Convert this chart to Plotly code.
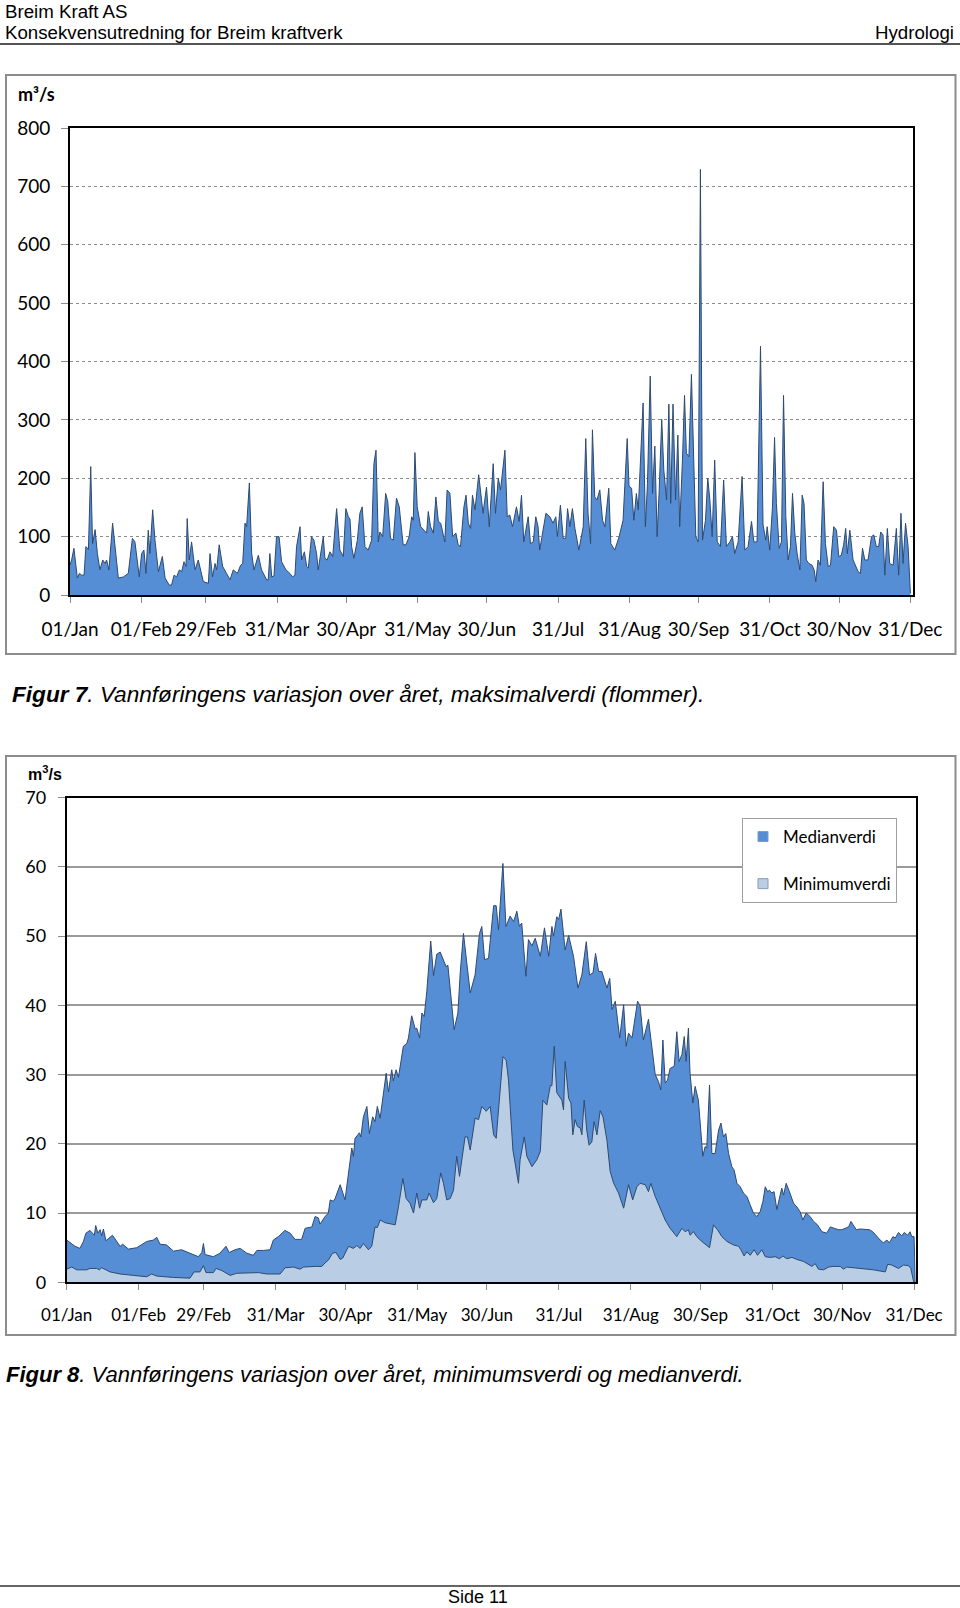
import plotly.graph_objects as go

# ---------------- data ----------------
tick_days = [0, 31, 59, 90, 120, 151, 181, 212, 243, 273, 304, 334, 365]
tick_labels = ["01/Jan", "01/Feb", "29/Feb", "31/Mar", "30/Apr", "31/May", "30/Jun",
               "31/Jul", "31/Aug", "30/Sep", "31/Oct", "30/Nov", "31/Dec"]

# Figur 7: maximum daily flow (m3/s), (day of year, value)
max_flow = [
    (0, 51), (0.7, 60), (1.7, 80), (3.2, 29), (4.1, 37), (5.1, 34), (6.1, 34), (6.9, 83), (8, 78),
    (9, 220), (9.8, 88), (10.9, 112), (11.9, 71), (13, 43), (14.2, 60), (15.2, 54), (15.9, 60),
    (16.9, 43), (18.5, 123), (19.5, 83), (21, 29), (23.2, 31), (25.3, 37), (27.1, 97), (28.2, 91),
    (30.1, 31), (31.1, 71), (32.1, 77), (33, 37), (34, 111), (34.7, 71), (35.9, 146), (36.9, 94),
    (38.4, 40), (40.1, 66), (41.3, 29), (43.1, 17), (44.1, 17), (45.2, 34), (46.3, 31), (47.5, 43),
    (48.5, 40), (49.5, 57), (50.4, 49), (50.9, 131), (51.8, 60), (52.8, 91), (54.3, 43), (55.7, 60),
    (57.9, 23), (60.1, 20), (60.8, 71), (61.9, 31), (63, 54), (63.7, 43), (64.8, 86), (66.3, 49),
    (68, 37), (69.5, 26), (70.9, 43), (72.7, 37), (74.1, 51), (75, 54), (76, 123), (76.7, 117),
    (77.9, 192), (78.9, 71), (79.9, 43), (81.8, 68), (83.2, 43), (85.4, 26), (86.1, 26), (86.8, 71),
    (87.6, 31), (88.6, 33), (89.7, 100), (90.8, 100), (91.9, 57), (93.8, 43), (95.5, 37), (96.7, 31),
    (97.7, 34), (98.4, 83), (99.9, 117), (100.6, 60), (101.8, 74), (102.8, 49), (103.5, 46),
    (104.9, 100), (105.9, 94), (107.1, 71), (107.8, 43), (108.8, 66), (110, 100), (110.7, 63),
    (111.7, 60), (112.9, 74), (114.1, 66), (115.8, 148), (117.2, 77), (118.7, 66), (119.8, 148),
    (120.9, 134), (121.6, 130), (122.3, 83), (123.3, 63), (124.8, 94), (125.9, 140), (126.9, 151),
    (128.1, 83), (129.5, 77), (131, 94), (132, 225), (132.9, 248), (133.9, 91), (134.6, 108),
    (135.8, 100), (137.1, 174), (138, 160), (139.2, 97), (140.4, 94), (141.8, 166), (143, 151),
    (144.7, 86), (145.9, 86), (147.3, 100), (148.4, 134), (149.1, 128), (149.8, 244), (150.8, 151),
    (152.3, 117), (153.7, 111), (154.9, 106), (155.6, 143), (156.6, 117), (157.8, 106), (158.9, 168),
    (160, 126), (161, 123), (162.8, 91), (163.8, 180), (165, 174), (166.2, 100), (167.6, 106),
    (168.6, 86), (169.6, 83), (171.1, 151), (172, 171), (173, 123), (174, 114), (174.8, 171),
    (175.9, 146), (177.5, 206), (179.4, 140), (180.9, 185), (182.1, 117), (183.8, 225), (184.8, 140),
    (186, 200), (187, 180), (188.9, 248), (189.9, 134), (191, 137), (192.2, 117), (193.9, 151),
    (195.1, 126), (196.1, 171), (197.1, 91), (199, 134), (200, 88), (201.2, 91), (202.3, 134),
    (203.3, 117), (204, 77), (205.2, 106), (206.7, 140), (208.4, 134), (209.8, 123), (211, 134),
    (211.7, 100), (213, 154), (214.2, 97), (215.3, 97), (216.1, 148), (217.1, 117), (218.2, 148),
    (219.3, 114), (221, 77), (222.9, 117), (224, 268), (225, 140), (226.1, 88), (226.9, 283),
    (227.9, 168), (228.9, 163), (230.1, 180), (231.3, 128), (232.3, 117), (234, 183), (234.9, 88),
    (236.6, 77), (238.5, 100), (240.2, 128), (242, 268), (242.8, 186), (243.9, 183), (244.9, 128),
    (246, 174), (246.8, 146), (248.9, 329), (249.9, 117), (250.8, 191), (252, 375), (253, 174),
    (254, 255), (255, 100), (255.9, 180), (257, 301), (257.9, 214), (259.1, 163), (260.1, 327),
    (260.9, 157), (261.9, 327), (263, 163), (264, 274), (264.8, 117), (266, 231), (266.9, 342),
    (267.7, 243), (268.8, 237), (269.9, 378), (270.6, 277), (271.8, 100), (272.8, 91), (273.8, 729),
    (274.7, 94), (276, 128), (277, 200), (277.9, 163), (278.9, 100), (280, 231), (281.1, 91),
    (282.5, 83), (283.9, 197), (285.1, 83), (286.6, 91), (287.7, 100), (288.7, 71), (290.2, 91),
    (291.9, 203), (293.1, 77), (294.5, 83), (296, 126), (297, 91), (298.4, 91), (299.9, 426),
    (301, 120), (302.2, 94), (302.8, 117), (303.9, 77), (305.1, 151), (306, 270), (306.8, 157),
    (308, 80), (309, 91), (309.9, 342), (310.9, 134), (311.9, 60), (312.9, 83), (313.8, 174),
    (314.8, 106), (315.8, 71), (317, 43), (318, 171), (318.8, 157), (319.8, 60), (320.9, 54),
    (322.3, 51), (323.2, 43), (323.9, 23), (324.9, 60), (325.9, 51), (327.1, 194), (328.1, 88),
    (329.3, 49), (330.3, 51), (331.7, 117), (332.9, 111), (333.9, 66), (335, 68), (336, 86),
    (336.9, 114), (337.6, 71), (338.7, 111), (340.1, 60), (342.3, 40), (343.3, 37), (344.2, 80),
    (345.2, 60), (346.6, 60), (348.1, 100), (349.1, 103), (350.2, 83), (351.2, 83), (352.1, 108),
    (353.1, 103), (353.9, 34), (355, 114), (356, 54), (357.5, 51), (358.9, 114), (359.9, 34),
    (360.9, 140), (361.8, 54), (362.9, 123), (364, 83), (365, 3),
]

# Figur 8: median daily flow (m3/s)
median_flow = [
    (0, 6.1), (3.6, 5.2), (5.7, 4.9), (7.2, 5.9), (8.3, 7.1), (10, 7.5), (11.9, 6.8), (12.5, 8.2),
    (13.4, 7.1), (14.4, 7.6), (15.1, 6.7), (15.8, 7.7), (16.9, 6.0), (19.7, 6.8), (23, 5.2),
    (24.1, 5.5), (26.6, 4.8), (30.2, 5.0), (34.5, 5.9), (37.3, 6.1), (38.8, 6.5), (40.2, 5.5),
    (43, 5.4), (46, 4.5), (49.5, 4.7), (53, 4.2), (56.7, 3.7), (58.2, 4.3), (58.9, 5.6), (59.6, 4.0),
    (63.2, 3.7), (66, 4.2), (67.2, 4.7), (68.6, 5.2), (70, 4.3), (72.5, 4.7), (74.7, 4.9),
    (77.6, 4.2), (80.4, 3.9), (81.9, 4.6), (84.7, 4.6), (87.6, 4.7), (89, 6.1), (91.2, 6.6),
    (94, 7.5), (96.2, 7.1), (98.4, 6.2), (101.2, 6.2), (102.7, 7.8), (105.6, 8.0), (107, 9.5),
    (108.4, 9.3), (109.1, 8.4), (111.3, 9.5), (112.7, 10.0), (113.5, 11.9), (114.9, 11.7),
    (115.6, 12.1), (117.8, 14.1), (119.9, 11.9), (121.4, 15.8), (122.8, 19.4), (123.5, 18.2),
    (124.2, 20.8), (126.1, 21.6), (126.7, 21.0), (127.8, 23.9), (129.3, 25.4), (130.4, 21.5),
    (131.8, 23.9), (132.8, 23.2), (133.8, 25.4), (135, 23.7), (136.4, 27.1), (137.6, 30.2),
    (138.6, 27.5), (140, 30.7), (140.7, 29.1), (141.9, 30.7), (142.9, 29.6), (145, 34.1),
    (146.5, 34.5), (147.2, 35.3), (148.6, 38.5), (150.1, 36.6), (150.8, 36.7), (152, 35.3),
    (153, 38.9), (154, 38.4), (155.1, 42.0), (156.8, 49.3), (158, 44.3), (159.4, 47.4),
    (160.9, 47.7), (162.3, 46.6), (163.4, 45.6), (164.2, 45.8), (165.5, 41.3), (166.9, 36.5),
    (168.5, 38.9), (169.5, 44.7), (170.9, 50.4), (172.1, 46.6), (173.8, 41.8), (175.9, 44.4),
    (177.8, 50.4), (178.8, 51.4), (180, 46.6), (181.7, 46.8), (183.9, 54.4), (185, 54.4),
    (186, 50.9), (187.9, 60.5), (189.2, 51.4), (191, 52.9), (192.5, 52.1), (193.9, 53.6),
    (195, 51.4), (196, 51.9), (197.8, 44.2), (198.9, 49.5), (200.4, 48.6), (201.8, 49.7),
    (204, 47.1), (205.8, 51.2), (207.6, 47.1), (209, 51.4), (209.7, 50.0), (211.1, 52.8),
    (211.9, 52.4), (212.9, 53.9), (214.7, 48.0), (216.2, 50.1), (218.3, 47.1), (220.2, 42.5),
    (221.9, 44.4), (223.8, 49.2), (225.2, 44.4), (226.7, 44.7), (227.8, 47.5), (229.1, 44.9),
    (230.5, 44.9), (232.7, 42.5), (233.9, 43.9), (234.9, 39.4), (236.3, 40.6), (238.2, 35.3),
    (239.9, 40.1), (241, 34.1), (242, 36.0), (243.5, 35.3), (245.9, 40.6), (247, 39.9),
    (248.4, 35.0), (250.6, 38.0), (252, 34.5), (253.5, 30.0), (254.9, 29.0), (255.9, 27.8),
    (256.8, 35.0), (257.8, 28.8), (258.8, 29.2), (259.9, 30.9), (261.7, 31.2), (262.8, 36.2),
    (263.8, 31.9), (265, 32.9), (266, 35.5), (266.8, 31.9), (267.8, 36.7), (268.5, 30.2),
    (269.7, 25.9), (270.7, 28.3), (272.1, 26.3), (273.1, 22.0), (274, 18.2), (275, 19.6),
    (275.7, 19.4), (276.9, 28.5), (277.9, 18.6), (279.3, 18.6), (280.8, 22.0), (281.8, 23.0),
    (282.9, 21.0), (283.9, 21.5), (285.1, 18.6), (286.5, 16.7), (287.5, 16.2), (288.7, 14.3),
    (290.1, 13.8), (291.5, 12.9), (293, 12.4), (294.4, 11.2), (295.8, 10.0), (297.3, 9.5),
    (298.7, 10.2), (299.9, 11.7), (300.9, 13.8), (301.9, 13.1), (302.7, 13.3), (303.7, 12.9),
    (304.7, 13.1), (305.9, 10.5), (307, 12.4), (308, 13.6), (308.8, 12.6), (309.9, 14.3),
    (311.3, 13.1), (313.1, 11.4), (314.5, 10.9), (315.9, 10.2), (317.1, 9.0), (318.5, 10.0),
    (320.2, 9.5), (321.7, 8.8), (323.4, 8.3), (325.3, 7.3), (327.4, 7.1), (328.9, 8.0),
    (330.6, 7.8), (332.5, 7.6), (333.9, 7.6), (335.3, 7.8), (336.8, 8.0), (337.8, 8.8),
    (338.9, 8.3), (340.1, 7.6), (341.8, 7.7), (343.9, 7.7), (345.8, 7.6), (347.2, 7.3),
    (349, 6.6), (350.4, 6.1), (351.8, 5.7), (353.3, 6.1), (354.4, 5.7), (355.9, 6.6),
    (356.9, 6.4), (358.3, 7.2), (359.7, 6.7), (360.8, 7.2), (362.2, 6.8), (363.3, 7.3),
    (364, 6.6), (365, 6.6), (365.5, 0),
]

# Figur 8: minimum daily flow (m3/s)
minimum_flow = [
    (0, 1.9), (2.2, 2.2), (4.3, 1.8), (8.6, 1.8), (10, 2.0), (12.9, 2.0), (14.1, 1.8), (15.1, 2.1),
    (18.7, 1.5), (23, 1.2), (28.7, 1.0), (34.5, 0.8), (36.6, 1.2), (38.8, 0.9), (46, 0.7),
    (53.1, 0.6), (54.9, 1.5), (57.4, 1.5), (58.9, 2.4), (60, 1.4), (63.2, 1.4), (64.3, 2.0),
    (66.8, 1.7), (70.4, 1.0), (73.2, 1.3), (77.6, 1.3), (82.6, 1.4), (86.2, 1.2), (91.9, 1.2),
    (94.1, 2.1), (97.7, 2.2), (100.5, 1.9), (102, 2.2), (107, 2.3), (109.9, 2.3), (111.3, 2.8),
    (112.7, 3.2), (114.5, 4.2), (116, 4.3), (117.8, 3.3), (118.9, 3.5), (121.4, 5.2), (123.5, 4.9),
    (125, 5.3), (126.4, 4.9), (127.8, 5.6), (130, 4.7), (131.4, 5.2), (132.8, 8.0), (133.8, 7.9),
    (135, 9.0), (137.2, 8.6), (141.5, 8.3), (142.9, 10.9), (144.8, 15.0), (146.2, 12.1),
    (147.9, 11.4), (149.4, 10.0), (150.8, 12.9), (152, 10.7), (153, 11.9), (155.1, 11.9),
    (156.1, 12.9), (158, 11.5), (159.4, 12.1), (161.1, 15.8), (162.3, 14.3), (163.7, 11.9),
    (165.2, 12.1), (166.6, 13.3), (168, 18.2), (169.2, 15.3), (171.6, 21.0), (172.6, 21.0),
    (173.8, 19.1), (175.9, 23.7), (177.4, 23.5), (178.8, 25.4), (180.7, 24.7), (182.4, 25.4),
    (183.9, 21.3), (185, 20.8), (186.4, 26.6), (187.9, 32.6), (189.3, 32.1), (190.3, 29.2),
    (192.2, 19.1), (194.6, 14.3), (195.3, 17.7), (197.1, 21.0), (198.2, 18.2), (200.4, 16.7),
    (202.5, 17.7), (204, 18.9), (205.1, 26.3), (206.8, 25.6), (208.3, 28.4), (209, 28.4),
    (210, 34.1), (211.1, 27.4), (213.3, 26.3), (214, 24.9), (214.7, 31.9), (216.2, 26.6),
    (217.2, 25.9), (218, 21.3), (219, 23.5), (220, 22.5), (221.2, 22.3), (221.9, 21.3),
    (222.9, 26.3), (224, 22.0), (225, 19.8), (226.2, 20.3), (227.2, 23.2), (228.4, 21.3),
    (229.8, 24.8), (231, 23.9), (232.7, 20.5), (234.1, 16.0), (235.6, 14.3), (237.7, 12.9),
    (239.9, 10.7), (242, 14.1), (243.8, 11.9), (245.6, 13.8), (247, 14.3), (249.2, 14.1),
    (250.6, 13.1), (251.6, 14.3), (253.5, 12.4), (255.6, 10.7), (257.8, 9.0), (259.9, 7.8),
    (262.8, 6.6), (265, 7.8), (266.4, 7.3), (267.8, 7.6), (268.5, 6.8), (270, 7.3), (271.4, 6.6),
    (273.6, 5.9), (275.7, 5.3), (276.9, 5.0), (278.6, 8.3), (280.3, 7.6), (282.2, 6.6),
    (284.4, 5.9), (287.2, 5.4), (289.4, 5.2), (290.4, 4.7), (291.8, 3.8), (293, 4.4), (294.4, 3.9),
    (296.1, 4.7), (297.6, 3.9), (299.4, 4.7), (300.9, 3.7), (303, 3.6), (305.2, 3.7), (307, 3.4),
    (308.5, 3.8), (310.2, 3.4), (312.4, 3.6), (314.5, 3.3), (317.4, 3.0), (321, 2.3), (322.4, 2.7),
    (323.8, 1.9), (326, 1.8), (328.2, 2.2), (330.3, 2.3), (333.2, 2.3), (334.6, 1.9), (336, 2.2),
    (341.8, 2.0), (347.5, 1.8), (352.6, 1.5), (353.6, 2.6), (355.4, 2.5), (358.3, 2.0),
    (360.5, 2.5), (362.6, 2.4), (363.6, 2.0), (364.8, 0.1), (365.5, 0),
]

# ---------------- styling ----------------
W, H = 960, 1608
BLUE = "#558ED5"
LIGHT = "#B9CDE5"
EDGE = "#2E4A70"
TICKFONT = "Lato, Open Sans, sans-serif"
ARIAL = "Liberation Sans, Arial, sans-serif"


def px(x):
    return x / W


def py(y):
    return 1 - y / H


def split(points):
    return [p[0] for p in points], [p[1] for p in points]


fig = go.Figure()

mx, my = split(max_flow)
fig.add_trace(go.Scatter(x=mx, y=my, mode="lines", fill="tozeroy", fillcolor=BLUE,
                         line=dict(color=EDGE, width=1), xaxis="x", yaxis="y",
                         showlegend=False, hoverinfo="skip"))

dx, dy = split(median_flow)
fig.add_trace(go.Scatter(x=dx, y=dy, mode="lines", fill="tozeroy", fillcolor=BLUE,
                         line=dict(color=EDGE, width=1), xaxis="x2", yaxis="y2",
                         showlegend=False, hoverinfo="skip"))
nx, ny = split(minimum_flow)
fig.add_trace(go.Scatter(x=nx, y=ny, mode="lines", fill="tozeroy", fillcolor=LIGHT,
                         line=dict(color=EDGE, width=1), xaxis="x2", yaxis="y2",
                         showlegend=False, hoverinfo="skip"))

# legend entries
fig.add_trace(go.Scatter(x=[None], y=[None], mode="markers", name="Medianverdi",
                         marker=dict(symbol="square", size=10, color=BLUE,
                                     line=dict(color="#7f9cc4", width=1)),
                         xaxis="x2", yaxis="y2", legendgroup="a"))
fig.add_trace(go.Scatter(x=[None], y=[None], mode="markers", name="Minimumverdi",
                         marker=dict(symbol="square", size=10, color=LIGHT,
                                     line=dict(color="#8a9cb4", width=1)),
                         xaxis="x2", yaxis="y2", legendgroup="b"))

common_x = dict(tickmode="array", tickvals=tick_days, ticktext=tick_labels, tickangle=0,
                ticks="outside", ticklen=6, tickcolor="#8c8c8c", tickwidth=1,
                showline=True, linecolor="black", linewidth=2, mirror=True,
                showgrid=False, zeroline=False, fixedrange=True, automargin=False)
common_y = dict(ticks="outside", ticklen=7, tickcolor="#8c8c8c", tickwidth=1,
                showline=True, linecolor="black", linewidth=2, mirror=True,
                zeroline=False, fixedrange=True, automargin=False)

fig.update_layout(
    template="none",
    width=W, height=H, autosize=False,
    margin=dict(l=0, r=0, t=0, b=0, pad=0, autoexpand=False),
    paper_bgcolor="white", plot_bgcolor="white",
    xaxis=dict(common_x, domain=[px(70), px(912.7)], range=[0, 366], anchor="y",
               tickfont=dict(family=TICKFONT, size=19, color="black"), ticklabelstandoff=10),
    yaxis=dict(common_y, domain=[py(595), py(128)], range=[0, 800], dtick=100, anchor="x",
               showgrid=True, gridcolor="#8c8c8c", gridwidth=1, griddash="dot",
               tickfont=dict(family=TICKFONT, size=19, color="black"), ticklabelstandoff=7),
    xaxis2=dict(common_x, domain=[px(66.7), px(915.7)], range=[0, 365.7], anchor="y2",
                tickfont=dict(family=TICKFONT, size=17, color="black"), ticklabelstandoff=10),
    yaxis2=dict(common_y, domain=[py(1282.3), py(797.7)], range=[0, 70], dtick=10, anchor="x2",
                showgrid=True, gridcolor="#9a9a9a", gridwidth=1.5,
                tickfont=dict(family=TICKFONT, size=18, color="black"), ticklabelstandoff=8),
    legend=dict(x=px(742), y=py(818), xanchor="left", yanchor="top",
                bgcolor="white", bordercolor="#a0a0a0", borderwidth=1,
                font=dict(family=TICKFONT, size=17, color="black"),
                tracegroupgap=22, traceorder="grouped", itemwidth=30),
    showlegend=True,
)

shapes = [
    # header and footer rules
    dict(type="line", xref="paper", yref="paper", x0=0, x1=1, y0=py(44), y1=py(44),
         line=dict(color="#555555", width=2)),
    dict(type="line", xref="paper", yref="paper", x0=0, x1=1, y0=py(1586), y1=py(1586),
         line=dict(color="#666666", width=2)),
    # chart frames
    dict(type="rect", xref="paper", yref="paper", x0=px(6), x1=px(955.5), y0=py(654), y1=py(75),
         line=dict(color="#8c8c8c", width=2), layer="below"),
    dict(type="rect", xref="paper", yref="paper", x0=px(6), x1=px(955.5), y0=py(1335), y1=py(756),
         line=dict(color="#8c8c8c", width=2), layer="below"),
]
fig.update_layout(shapes=shapes)


def note(text, x, y, size, family=ARIAL, xanchor="left", color="black"):
    return dict(text=text, x=px(x), y=py(y), xref="paper", yref="paper",
                xanchor=xanchor, yanchor="middle", showarrow=False,
                font=dict(family=family, size=size, color=color))


annotations = [
    note("Breim Kraft AS", 3, 11, 18.7),
    note("Konsekvensutredning for Breim kraftverk", 3, 32, 18.7),
    note("Hydrologi", 956, 32, 18.7, xanchor="right"),
    note("<b>m³/s</b>", 16, 94, 18, family=TICKFONT),
    note("<i><b>Figur 7</b>. Vannføringens variasjon over året, maksimalverdi (flommer).</i>",
         10, 694, 22.6),
    note("<b>m<sup>3</sup>/s</b>", 26, 773, 16),
    note("<i><b>Figur 8</b>. Vannføringens variasjon over året, minimumsverdi og medianverdi.</i>",
         4, 1374, 22),
    note("Side 11", 478, 1597, 18, xanchor="center"),
]
fig.update_layout(annotations=annotations)

fig.write_html("out.html", config={"displayModeBar": False},
               post_script="document.body.style.margin='0';document.body.style.overflow='hidden';")
